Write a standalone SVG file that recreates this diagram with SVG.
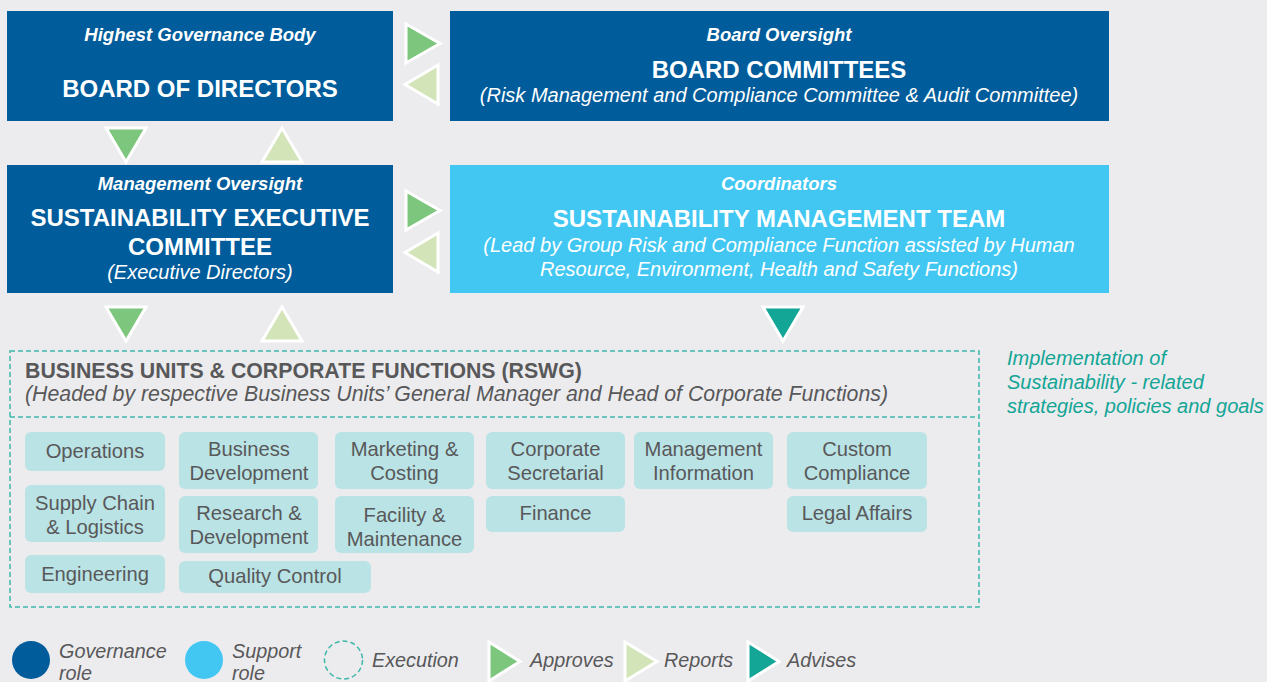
<svg xmlns="http://www.w3.org/2000/svg" width="1267" height="682" viewBox="0 0 1267 682">
<defs>
<style>
text{font-family:"Liberation Sans",Arial,sans-serif}
.gov{fill:#005C9B}
.sup{fill:#42C7F3}
.w{fill:#fff;text-anchor:middle}
.bi{font-weight:bold;font-style:italic;font-size:18.5px}
.h{font-weight:bold;font-size:24px}
.it{font-style:italic;font-size:20px}
.ap{fill:#7DC67D;stroke:#fff;stroke-width:3;stroke-linejoin:miter}
.rp{fill:#D3E5B8;stroke:#fff;stroke-width:3}
.ad{fill:#13A596;stroke:#fff;stroke-width:3}
.fb{fill:#BAE3E5}
.ft{fill:#58585A;font-size:20.2px;text-anchor:middle}
.dash{fill:none;stroke:#3DB8AA;stroke-width:1.5;stroke-dasharray:5 3}
.lg{fill:#58585A;font-style:italic;font-size:19.8px}
</style>
</defs>
<rect width="1267" height="682" fill="#ECECEE"/>

<g id="board">
<rect class="gov" x="7" y="11" width="386" height="110"/>
<text class="w bi" x="200" y="41">Highest Governance Body</text>
<text class="w h" x="200" y="97">BOARD OF DIRECTORS</text>
</g>
<g id="committees">
<rect class="gov" x="450" y="11" width="659" height="110"/>
<text class="w bi" x="779" y="41">Board Oversight</text>
<text class="w h" x="779" y="78">BOARD COMMITTEES</text>
<text class="w it" x="779" y="102">(Risk Management and Compliance Committee &amp; Audit Committee)</text>
</g>
<g id="sec">
<rect class="gov" x="7" y="165" width="386" height="128"/>
<text class="w bi" x="200" y="190">Management Oversight</text>
<text class="w h" x="200" y="226">SUSTAINABILITY EXECUTIVE</text>
<text class="w h" x="200" y="255">COMMITTEE</text>
<text class="w it" x="200" y="279">(Executive Directors)</text>
</g>
<g id="smt">
<rect class="sup" x="450" y="165" width="659" height="128"/>
<text class="w bi" x="779" y="190">Coordinators</text>
<text class="w h" x="779" y="227">SUSTAINABILITY MANAGEMENT TEAM</text>
<text class="w it" x="779" y="252">(Lead by Group Risk and Compliance Function assisted by Human</text>
<text class="w it" x="779" y="276">Resource, Environment, Health and Safety Functions)</text>
</g>

<g id="connectors">
<polygon class="ap" points="406,24 440,43.5 406,63"/>
<polygon class="rp" points="438,65 405,84.5 438,104"/>
<polygon class="ap" points="406,191 440,210.5 406,230"/>
<polygon class="rp" points="438,233 405,252.5 438,272"/>
<polygon class="ap" points="106,128 146,128 126,162"/>
<polygon class="rp" points="262,162 302,162 282,128"/>
<polygon class="ap" points="106,307 146,307 126,341"/>
<polygon class="rp" points="262,341 302,341 282,307"/>
<polygon class="ad" points="763,307 803,307 783,341"/>
</g>

<g id="bu">
<rect class="dash" x="10" y="351" width="969" height="256"/>
<line class="dash" x1="10" y1="417" x2="979" y2="417"/>
<text x="25" y="378" fill="#58585A" font-weight="bold" font-size="21.3px">BUSINESS UNITS &amp; CORPORATE FUNCTIONS (RSWG)</text>
<text x="25" y="401" fill="#58585A" font-style="italic" font-size="21.3px">(Headed by respective Business Units’ General Manager and Head of Corporate Functions)</text>
</g>

<g id="f-operations"><rect class="fb" x="25" y="432" width="140" height="39" rx="6"/><text class="ft" x="95" y="458">Operations</text></g>
<g id="f-supply"><rect class="fb" x="25" y="485" width="140" height="57" rx="6"/><text class="ft" x="95" y="510">Supply Chain</text><text class="ft" x="95" y="534">&amp; Logistics</text></g>
<g id="f-engineering"><rect class="fb" x="25" y="555" width="140" height="38" rx="6"/><text class="ft" x="95" y="581">Engineering</text></g>
<g id="f-bizdev"><rect class="fb" x="179" y="432" width="139" height="57" rx="6"/><text class="ft" x="249" y="456">Business</text><text class="ft" x="249" y="480">Development</text></g>
<g id="f-rnd"><rect class="fb" x="179" y="496" width="139" height="57" rx="6"/><text class="ft" x="249" y="520">Research &amp;</text><text class="ft" x="249" y="544">Development</text></g>
<g id="f-qc"><rect class="fb" x="179" y="561" width="192" height="32" rx="6"/><text class="ft" x="275" y="583">Quality Control</text></g>
<g id="f-marketing"><rect class="fb" x="335" y="432" width="139" height="57" rx="6"/><text class="ft" x="404.5" y="456">Marketing &amp;</text><text class="ft" x="404.5" y="480">Costing</text></g>
<g id="f-facility"><rect class="fb" x="335" y="496" width="139" height="57" rx="6"/><text class="ft" x="404.5" y="522">Facility &amp;</text><text class="ft" x="404.5" y="546">Maintenance</text></g>
<g id="f-cosec"><rect class="fb" x="486" y="432" width="139" height="57" rx="6"/><text class="ft" x="555.5" y="456">Corporate</text><text class="ft" x="555.5" y="480">Secretarial</text></g>
<g id="f-finance"><rect class="fb" x="486" y="496" width="139" height="36" rx="6"/><text class="ft" x="555.5" y="520">Finance</text></g>
<g id="f-mis"><rect class="fb" x="634" y="432" width="139" height="57" rx="6"/><text class="ft" x="703.5" y="456">Management</text><text class="ft" x="703.5" y="480">Information</text></g>
<g id="f-custom"><rect class="fb" x="787" y="432" width="140" height="57" rx="6"/><text class="ft" x="857" y="456">Custom</text><text class="ft" x="857" y="480">Compliance</text></g>
<g id="f-legal"><rect class="fb" x="787" y="496" width="140" height="36" rx="6"/><text class="ft" x="857" y="520">Legal Affairs</text></g>

<g id="impl-note" fill="#13A596" font-style="italic" font-size="20px">
<text x="1007" y="365">Implementation of</text>
<text x="1007" y="389">Sustainability - related</text>
<text x="1007" y="413">strategies, policies and goals</text>
</g>

<g id="legend">
<circle class="gov" cx="31" cy="660" r="19"/>
<text class="lg" x="59" y="658">Governance</text>
<text class="lg" x="59" y="680">role</text>
<circle class="sup" cx="204" cy="660" r="19"/>
<text class="lg" x="232" y="658">Support</text>
<text class="lg" x="232" y="680">role</text>
<circle class="dash" cx="343.5" cy="660" r="19"/>
<text class="lg" x="372" y="667">Execution</text>
<polygon class="ap" points="489,642 520,661.5 489,681"/>
<text class="lg" x="530" y="667">Approves</text>
<polygon class="rp" points="625,642 657,661.5 625,681"/>
<text class="lg" x="664" y="667">Reports</text>
<polygon class="ad" points="748,642 779,661.5 748,681"/>
<text class="lg" x="787" y="667">Advises</text>
</g>
</svg>
